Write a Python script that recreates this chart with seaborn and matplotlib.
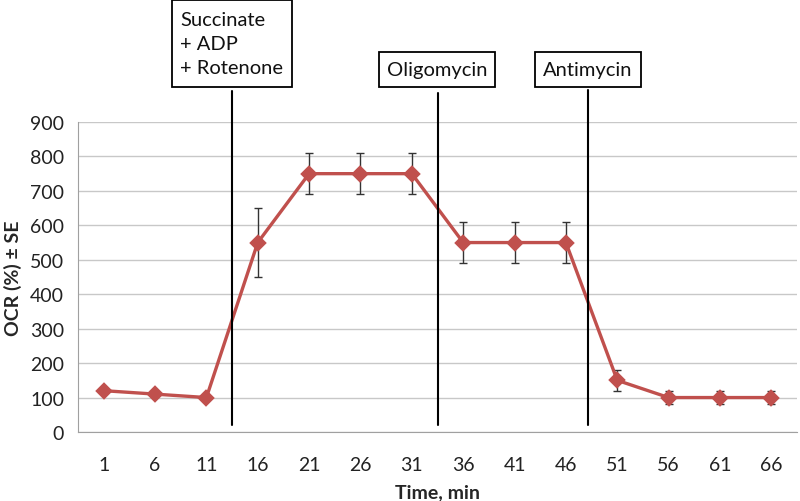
import numpy as np
import pandas as pd
import matplotlib
matplotlib.use("Agg")
import matplotlib.pyplot as plt
from matplotlib.patches import Rectangle
import seaborn as sns

# Data
times = ["1", "6", "11", "16", "21", "26", "31", "36", "41", "46", "51", "56", "61", "66"]
ocr = [120, 110, 100, 550, 750, 750, 750, 550, 550, 550, 150, 100, 100, 100]
se = [0, 0, 0, 100, 60, 60, 60, 60, 60, 60, 30, 20, 20, 20]

# injections and where they sit between the categories
inj_labels = ["Succinate\n+ ADP\n+ Rotenone", "Oligomycin", "Antimycin"]
inj_pos = [2.5, 6.5, 9.43]

df = pd.DataFrame({"time": times, "ocr": ocr})

sns.set_style("white")
plt.rcParams["font.family"] = ["Lato", "DejaVu Sans"]

W, H = 800, 502
fig = plt.figure(figsize=(W / 100, H / 100), dpi=100)
ax = fig.add_axes([78 / W, 1 - 433 / H, (797 - 78) / W, (433 - 123) / H])

red = "#C0504D"
sns.pointplot(data=df, x="time", y="ocr", order=times, color=red,
              markers="D", linestyles="-", errorbar=None, ax=ax,
              markersize=7, linewidth=2.4, zorder=3)
ax.errorbar(np.arange(len(times)), ocr, yerr=se, fmt="none",
            ecolor="#333333", elinewidth=1, capsize=3, capthick=1, zorder=2)

ax.set_xlim(-0.5, len(times) - 0.5)
ax.set_ylim(0, 900)
ax.set_yticks(range(0, 901, 100))
ax.yaxis.grid(True, color="#c8c8c8", linewidth=1)
ax.set_axisbelow(True)

for s in ["top", "right"]:
    ax.spines[s].set_visible(False)
for s in ["left", "bottom"]:
    ax.spines[s].set_color("#a0a0a0")

ax.set_xticks(np.arange(len(times)))
ax.set_xticklabels(times)
ax.set_xticks(np.arange(-0.5, len(times)), minor=True)
ax.tick_params(axis="x", which="major", length=0, pad=17, labelsize=14)
ax.tick_params(axis="x", which="minor", length=5, color="#a0a0a0", direction="out")
ax.tick_params(axis="y", length=5, color="#a0a0a0", labelsize=14, pad=5)
for lab in ax.get_xticklabels() + ax.get_yticklabels():
    lab.set_color("#222222")

ax.set_xlabel("Time, min", fontsize=14, fontweight="bold", labelpad=8)
ax.set_ylabel("OCR (%) ± SE", fontsize=14, fontweight="bold", labelpad=6)

# injection lines extending above the plot
tops = [990, 984, 993]
for x, t in zip(inj_pos, tops):
    ax.plot([x, x], [20, t], color="black", linewidth=1.5, clip_on=False, zorder=4)

# annotation boxes (pixel coords)
boxes = [(172, 1, 292, 88), (379, 53, 495, 88), (535, 53, 641, 88)]
for lab, (x0, y0, x1, y1) in zip(inj_labels, boxes):
    fig.patches.append(Rectangle((x0 / W, 1 - y1 / H), (x1 - x0) / W, (y1 - y0) / H,
                                 transform=fig.transFigure, fill=False,
                                 edgecolor="black", linewidth=1.3))
    fig.text((x0 + 8) / W, 1 - ((y0 + y1) / 2) / H, lab, ha="left", va="center",
             fontsize=14.5, linespacing=1.5, color="#111111")

fig.savefig("out.png", dpi=100)
